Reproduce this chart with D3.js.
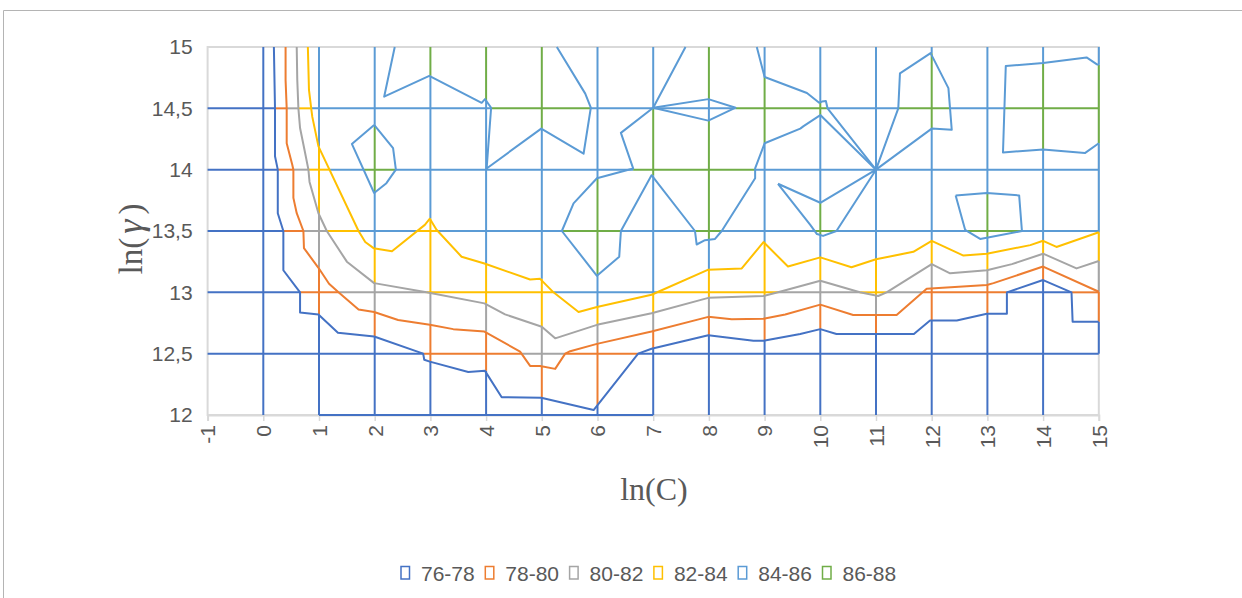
<!DOCTYPE html>
<html>
<head>
<meta charset="utf-8">
<script src="https://cdnjs.cloudflare.com/ajax/libs/d3/7.8.5/d3.min.js"></script>
<style>
  body { margin: 0; background: #fff; }
  svg { display: block; font-family: "Liberation Sans", Arial, sans-serif; }
</style>
</head>
<body>
<svg id="chart" width="1242" height="598"></svg>
<script>
// bands of the wireframe contour (series)
const bands = ["76-78", "78-80", "80-82", "82-84", "84-86", "86-88"];
const xTicks = d3.range(-1, 16);
const yTicks = [12, 12.5, 13, 13.5, 14, 14.5, 15];

// band boundaries, points are [ln(C), ln(gamma)]
const line78 = [[0.19,15],[0.21,14.5],[0.21,14.11],[0.26,14],[0.26,13.645],[0.36,13.5],[0.36,13.18],[0.66,13],[0.66,12.835],
  [0.99,12.82],[1.34,12.67],[1.99,12.64],[2.87,12.5],[2.89,12.45],[2.99,12.435],[3.68,12.35],[3.98,12.36],[4.28,12.145],
  [4.99,12.14],[5.93,12.04],[6.73,12.5],[6.97,12.54],[7.99,12.65],[8.8,12.605],[8.98,12.605],[9.64,12.66],[10,12.7],
  [10.29,12.66],[11.68,12.66],[11.97,12.77],[12.45,12.77],[12.99,12.825],[13.35,12.825],[13.35,13],[14,13.1],[14.51,13],
  [14.53,12.76],[15,12.76]];
const line80 = [[0.4,15],[0.4,14.73],[0.42,14.5],[0.42,14.215],[0.52,14.04],[0.54,14],[0.54,13.77],[0.6,13.645],[0.72,13.5],
  [0.73,13.36],[0.99,13.2],[1.18,13.07],[1.35,13],[1.71,12.86],[1.99,12.84],[2.42,12.775],[2.99,12.735],[3.41,12.7],
  [3.97,12.68],[4.61,12.517],[4.79,12.4],[4.97,12.4],[5.24,12.376],[5.42,12.5],[5.51,12.52],[5.99,12.58],[6.97,12.68],
  [7.99,12.8],[8.41,12.78],[8.98,12.785],[9.37,12.82],[10,12.9],[10.59,12.815],[11.37,12.815],[11.91,13.03],[12.99,13.06],
  [13.11,13.075],[14,13.21],[15,13.005]];
const line82 = [[0.6,15],[0.61,14.73],[0.63,14.5],[0.66,14.34],[0.74,14.16],[0.81,14],[0.83,13.9],[0.99,13.645],[1.14,13.5],
  [1.5,13.25],[1.99,13.075],[2.93,13],[3.97,12.91],[4.34,12.82],[5,12.72],[5.24,12.625],[5.99,12.735],[6.97,12.83],
  [7.99,12.955],[8.98,12.97],[9.24,13],[10,13.095],[10.71,13],[11.04,12.97],[11.19,13],[12,13.23],[12.33,13.155],
  [12.99,13.18],[13.44,13.23],[14,13.315],[14.6,13.195],[15,13.255]];
const line84 = [[0.8,15],[0.82,14.65],[0.86,14.5],[0.88,14.43],[0.99,14.19],[1.71,13.5],[1.83,13.41],[1.98,13.36],[2.31,13.335],
  [2.9,13.55],[2.99,13.6],[3.11,13.51],[3.56,13.29],[3.97,13.235],[4.79,13.105],[4.97,13.11],[5.21,13],[5.66,12.84],
  [5.99,12.88],[6.97,12.98],[7.99,13.185],[8.59,13.195],[8.98,13.41],[9.42,13.21],[10,13.285],[10.56,13.205],[11,13.27],
  [11.67,13.33],[12,13.42],[12.57,13.3],[12.99,13.315],[13.77,13.385],[14,13.42],[14.24,13.37],[15,13.49]];
const lines86 = [
  [[2.36,15],[2.17,14.595],[2.98,14.765],[3.92,14.545],[3.98,14.575],[4.09,14.505],[4.01,14.01],[4.99,14.335],[5.75,14.13],
   [5.88,14.505],[5.78,14.62],[5.27,15]],
  [[1.99,14.365],[2.33,14.175],[2.38,14],[2.21,13.89],[1.99,13.81],[1.59,14.21],[1.99,14.365]],
  [[7.58,15],[7,14.505],[6.42,14.3],[6.64,14.01],[5.99,13.93],[5.57,13.725],[5.36,13.5],[5.99,13.135],[6.39,13.29],
   [6.42,13.5],[6.97,13.955],[7.75,13.5],[7.78,13.39],[7.93,13.425],[8.11,13.435],[8.23,13.5],[8.83,13.93],[8.83,14.01],
   [9,14.215],[9.64,14.335],[9.7,14.355],[10,14.445],[11,14]],
  [[7,14.505],[7.99,14.575],[8.48,14.505],[7.99,14.4],[7,14.505]],
  [[8.86,15],[9,14.755],[9.76,14.625],[9.98,14.545],[10.03,14.555],[10.1,14.56],[10.13,14.5],[10.92,14.045],[11,14]],
  [[9.24,13.885],[10,13.73],[11,14],[10.29,13.5],[10.05,13.46],[9.94,13.475],[9.82,13.55],[9.24,13.885]],
  [[11,14],[11.4,14.5],[11.43,14.785],[11.98,14.95],[12.3,14.665],[12.36,14.325],[12,14.335],[11,14]],
  [[15,14.855],[14.96,14.86],[14.78,14.915],[14,14.87],[13.33,14.845],[13.28,14.14],[14,14.165],[14.75,14.135],[15,14.215]],
  [[12.43,13.79],[12.99,13.81],[13.57,13.79],[13.62,13.5],[12.87,13.435],[12.6,13.51],[12.43,13.79]]
];

// wireframe grid: columns at ln(C) = 0..15, runs [from, to, band]
const colX = d3.range(0, 16);
const colRuns = [
  [[12,15,0]],
  [[12,12.82,0],[12.82,13.2,1],[13.2,13.645,2],[13.645,14.19,3],[14.19,15,4]],
  [[12,12.64,0],[12.64,12.84,1],[12.84,13.075,2],[13.075,13.36,3],[13.36,13.81,4],[13.81,14.365,5],[14.365,15,4]],
  [[12,12.435,0],[12.435,12.735,1],[12.735,13,2],[13,13.6,3],[13.6,14.765,4],[14.765,15,5]],
  [[12,12.36,0],[12.36,12.68,1],[12.68,12.91,2],[12.91,13.235,3],[13.235,14.56,4],[14.56,15,5]],
  [[12,12.14,0],[12.14,12.4,1],[12.4,12.72,2],[12.72,13.11,3],[13.11,14.335,4],[14.335,15,5]],
  [[12,12.08,0],[12.08,12.58,1],[12.58,12.735,2],[12.735,12.88,3],[12.88,13.135,4],[13.135,13.93,5],[13.93,15,4]],
  [[12,12.54,0],[12.54,12.68,1],[12.68,12.83,2],[12.83,12.98,3],[12.98,13.955,4],[13.955,14.505,5],[14.505,15,4]],
  [[12,12.65,0],[12.65,12.8,1],[12.8,12.955,2],[12.955,13.185,3],[13.185,13.43,4],[13.43,14.4,5],[14.4,14.575,4],[14.575,15,5]],
  [[12,12.605,0],[12.605,12.785,1],[12.785,12.97,2],[12.97,13.4,3],[13.4,14.215,4],[14.215,14.755,5],[14.755,15,4]],
  [[12,12.7,0],[12.7,12.9,1],[12.9,13.095,2],[13.095,13.285,3],[13.285,13.466,4],[13.466,13.73,5],[13.73,14.445,4],
   [14.445,14.549,5],[14.549,15,4]],
  [[12,12.66,0],[12.66,12.815,1],[12.815,12.97,2],[12.97,13.27,3],[13.27,15,4]],
  [[12,12.77,0],[12.77,13.03,1],[13.03,13.23,2],[13.23,13.42,3],[13.42,14.335,4],[14.335,14.95,5],[14.95,15,4]],
  [[12,12.825,0],[12.825,13.06,1],[13.06,13.18,2],[13.18,13.315,3],[13.315,13.446,4],[13.446,13.81,5],[13.81,15,4]],
  [[12,13.1,0],[13.1,13.21,1],[13.21,13.315,2],[13.315,13.42,3],[13.42,14.165,4],[14.165,14.87,5],[14.87,15,4]],
  [[12.5,12.76,0],[12.76,13.005,1],[13.005,13.255,2],[13.255,13.49,3],[13.49,14.215,4],[14.215,14.855,5],[14.855,15,4]]
];
// rows at ln(gamma) = 12..14.5
const rowY = [12, 12.5, 13, 13.5, 14, 14.5];
const rowRuns = [
  [[1,7,0]],
  [[-1,2.87,0],[2.87,4.64,1],[4.64,5.42,2],[5.42,6.73,1],[6.73,15,0]],
  [[-1,0.66,0],[0.66,1.35,1],[1.35,2.93,2],[2.93,5.21,3],[5.21,7.07,4],[7.07,9.24,3],[9.24,10.71,2],[10.71,11.19,3],
   [11.19,11.835,2],[11.835,13.35,1],[13.35,14.51,0],[14.51,15,1]],
  [[-1,0.36,0],[0.36,0.72,1],[0.72,1.14,2],[1.14,1.71,3],[1.71,2.76,4],[2.76,3.13,3],[3.13,5.36,4],[5.36,6.42,5],
   [6.42,7.75,4],[7.75,8.23,5],[8.23,9.9,4],[9.9,10.29,5],[10.29,12.64,4],[12.64,13.62,5],[13.62,15,4]],
  [[-1,0.26,0],[0.26,0.54,1],[0.54,0.81,2],[0.81,1.19,3],[1.19,1.8,4],[1.8,2.38,5],[2.38,6.64,4],[6.64,8.83,5],[8.83,15,4]],
  [[-1,0.21,0],[0.21,0.42,1],[0.42,0.63,2],[0.63,0.86,3],[0.86,4.09,4],[4.09,5.88,5],[5.88,8.48,4],[8.48,10.13,5],
   [10.13,11.4,4],[11.4,12.33,5],[12.33,13.305,4],[13.305,15,5]]
];

const colors = ["#4472C4", "#ED7D31", "#A5A5A5", "#FFC000", "#5B9BD5", "#70AD47"];
const textColor = "#595959";

const svg = d3.select("#chart");

// chart area frame
svg.append("path")
  .attr("d", "M3.5,598V10.5H1242")
  .attr("fill", "none")
  .attr("stroke", "#b4b4b4");

const x = d3.scaleLinear().domain([-1, 15]).range([207.6, 1098.8]);
const y = d3.scaleLinear().domain([12, 15]).range([415, 47]);

// plot area border
svg.append("rect")
  .attr("x", x(-1)).attr("y", y(15))
  .attr("width", x(15) - x(-1)).attr("height", y(12) - y(15))
  .attr("fill", "none").attr("stroke", "#d9d9d9").attr("stroke-width", 2);

// x axis
const xAxis = svg.append("g")
  .attr("transform", `translate(0,${y(12)})`)
  .call(d3.axisBottom(x).tickValues(xTicks).tickSize(6).tickFormat(d3.format("d")));
xAxis.select(".domain").attr("stroke", "#d9d9d9").attr("stroke-width", 2);
xAxis.selectAll(".tick line").attr("stroke", "#d9d9d9").attr("stroke-width", 1.5);
xAxis.selectAll(".tick text")
  .attr("fill", textColor)
  .style("font-size", "21px")
  .attr("text-anchor", "end")
  .attr("x", 0).attr("y", 0).attr("dy", "0.35em")
  .attr("transform", "translate(0,10) rotate(-90)")
  .text(d => d < 0 ? "-" + Math.abs(d) : d);

// y axis
const yAxis = svg.append("g")
  .attr("transform", `translate(${x(-1)},0)`)
  .call(d3.axisLeft(y).tickValues(yTicks).tickSize(0).tickPadding(15)
    .tickFormat(d => String(d).replace(".", ",")));
yAxis.select(".domain").remove();
yAxis.selectAll(".tick text").attr("fill", textColor).style("font-size", "21px");

// wireframe grid
const plot = svg.append("g").attr("fill", "none").attr("stroke-width", 2);

colX.forEach((cx, i) => {
  plot.selectAll(null)
    .data(colRuns[i])
    .join("line")
    .attr("x1", x(cx)).attr("x2", x(cx))
    .attr("y1", d => y(d[0])).attr("y2", d => y(d[1]))
    .attr("stroke", d => colors[d[2]]);
});

rowY.forEach((ry, i) => {
  plot.selectAll(null)
    .data(rowRuns[i])
    .join("line")
    .attr("y1", y(ry)).attr("y2", y(ry))
    .attr("x1", d => x(d[0])).attr("x2", d => x(d[1]))
    .attr("stroke", d => colors[d[2]]);
});

// contour boundaries
const lineGen = d3.line().x(d => x(d[0])).y(d => y(d[1]));
const boundaries = [
  { band: 0, pts: line78 },
  { band: 1, pts: line80 },
  { band: 2, pts: line82 },
  { band: 3, pts: line84 },
  ...lines86.map(p => ({ band: 4, pts: p }))
];
plot.selectAll("path.boundary")
  .data(boundaries)
  .join("path")
  .attr("class", "boundary")
  .attr("d", d => lineGen(d.pts))
  .attr("stroke", d => colors[d.band])
  .attr("stroke-linejoin", "round");

// axis titles
svg.append("text")
  .attr("x", 654).attr("y", 500)
  .attr("text-anchor", "middle")
  .attr("fill", textColor)
  .style("font-family", "'Liberation Serif', 'Times New Roman', serif")
  .style("font-size", "32px")
  .text("ln(C)");

const yTitle = svg.append("text")
  .attr("transform", "translate(142,239) rotate(-90)")
  .attr("text-anchor", "middle")
  .attr("fill", textColor)
  .style("font-family", "'Liberation Serif', 'Times New Roman', serif")
  .style("font-size", "33px");
yTitle.append("tspan").text("ln(");
yTitle.append("tspan").attr("dx", 4).style("font-style", "italic").style("font-size", "36px").text("γ");
yTitle.append("tspan").attr("dx", 5).text(")");

// legend
const legend = svg.append("g").attr("transform", "translate(401,573)");
const item = legend.selectAll("g")
  .data(bands)
  .join("g")
  .attr("transform", (d, i) => `translate(${i * 84.3},0)`);
item.append("rect")
  .attr("x", 0).attr("y", -6.5)
  .attr("width", 8.5).attr("height", 12.5)
  .attr("fill", "#fff")
  .attr("stroke", (d, i) => colors[i])
  .attr("stroke-width", 1.5);
item.append("text")
  .attr("x", 20).attr("dy", "0.36em")
  .attr("fill", textColor)
  .style("font-size", "21px")
  .text(d => d);
</script>
</body>
</html>
